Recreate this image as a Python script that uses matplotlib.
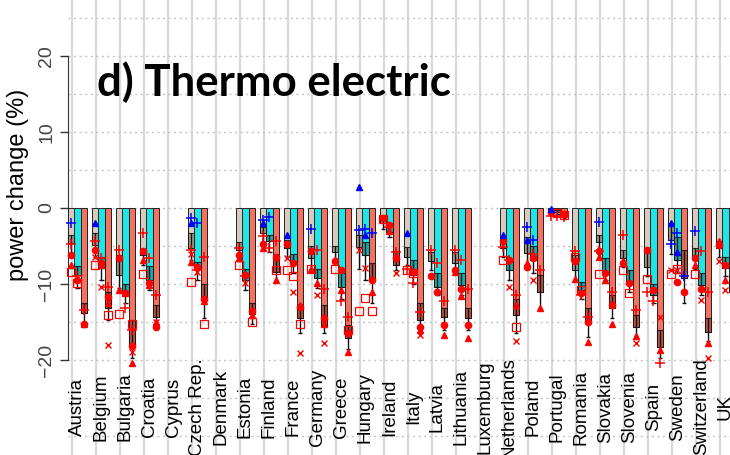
import numpy as np
import matplotlib
matplotlib.use("Agg")
import matplotlib.pyplot as plt

N = np.nan

countries = ["Austria", "Belgium", "Bulgaria", "Croatia", "Cyprus", "Czech Rep.",
             "Denmark", "Estonia", "Finland", "France", "Germany", "Greece",
             "Hungary", "Ireland", "Italy", "Latvia", "Lithuania", "Luxemburg",
             "Netherlands", "Poland", "Portugal", "Romania", "Slovakia",
             "Slovenia", "Spain", "Sweden", "Switzerland", "UK"]

# bar values (tan, cyan, salmon)
bar_vals = [(-4.6, -8.8, -13.8), (-4.9, -7.9, -13.2), (-8.8, -11.2, -18.0), (-6.2, -9.5, -14.3),
            (N, N, N), (-5.3, -7.9, -12.1), (N, N, N), (-5.5, -9.5, -14.0),
            (-3.3, -4.4, -8.4), (-5.3, -7.1, -14.5), (-6.6, -9.2, -15.6), (-5.8, -10.4, -17.1),
            (-5.1, -6.2, -9.5), (-2.0, -3.1, -7.5), (-6.4, -8.8, -14.7), (-7.0, -10.4, -14.3),
            (-7.2, -10.1, -14.5), (N, N, N), (-5.3, -8.2, -14.1), (-5.9, -6.8, -11.0),
            (-0.3, -0.5, -1.0), (-8.2, -10.8, -15.0), (-4.5, -8.4, -13.2), (-6.6, -9.7, -15.6),
            (-7.7, -11.5, -18.3), (-4.2, -6.8, -9.2), (-6.6, -10.1, -16.3), (-5.3, -7.9, -11.0)]
# upper edge of the darker range box
box_top = [(-3.5, -7.6, -12.5), (-3.3, -6.4, -11.0), (-6.2, -10.0, -14.7), (-5.5, -7.6, -12.8),
           (N, N, N), (-3.3, -7.1, -10.0), (N, N, N), (-4.5, -8.0, -12.5),
           (-2.5, -3.5, -6.4), (-4.2, -6.0, -12.8), (-5.0, -8.0, -12.8), (-5.0, -8.5, -15.4),
           (-3.5, -4.5, -7.3), (-1.0, -2.0, -5.6), (-5.1, -6.8, -12.5), (-5.8, -8.6, -13.2),
           (-5.8, -8.6, -13.2), (N, N, N), (-4.5, -7.0, -12.0), (-3.8, -5.0, -8.8),
           (-0.1, -0.2, -0.5), (-6.2, -9.7, -13.2), (-3.5, -6.6, -11.4), (-5.5, -8.2, -14.1),
           (-5.5, -10.0, -16.1), (-2.0, -3.8, -5.5), (-5.3, -8.6, -14.5), (-4.3, -6.5, -9.5)]
# lower end of the error whisker
whisk_lo = [(-6.5, -10.5, -15.3), (-6.5, -9.5, -14.8), (-10.5, -12.5, -19.8), (-7.5, -10.8, -15.8),
            (N, N, N), (-6.8, -9.5, -14.5), (N, N, N), (-7.0, -10.8, -15.2),
            (-4.5, -5.8, -9.8), (-6.5, -8.5, -16.5), (-8.0, -10.5, -16.5), (-7.0, -12.0, -18.5),
            (-8.0, -9.5, -12.5), (-2.8, -3.8, -8.2), (-7.5, -10.0, -16.5), (-8.2, -11.5, -16.0),
            (-8.4, -11.4, -16.0), (N, N, N), (-6.5, -9.5, -16.4), (-7.5, -8.5, -13.2),
            (-0.5, -0.8, -1.3), (-9.5, -12.0, -17.0), (-6.0, -9.5, -14.5), (-7.8, -11.0, -16.8),
            (-9.0, -12.5, -19.8), (-6.0, -8.5, -12.5), (-8.0, -11.5, -17.5), (-6.5, -9.0, -12.5)]

# individual model markers (tan, cyan, salmon)
red_tri = [(-7.5, -9.3, -15.2), (N, -7.5, -12.5), (-10.8, -11.2, -20.4), (-6.8, -10.1, -15.0),
           (N, N, N), (-7.1, N, -12.3), (N, N, N), (-6.6, N, -14.1),
           (-5.3, N, -9.5), (N, N, -12.8), (-8.0, -9.9, -15.2), (-6.8, -10.8, -18.9),
           (N, N, -11.0), (N, -3.0, N), (N, N, -16.1), (N, N, -16.7),
           (-8.4, -11.6, -17.1), (N, N, N), (N, N, -12.8), (-7.3, N, -13.2),
           (N, N, N), (-9.3, N, -17.6), (-6.4, -9.5, -15.2), (-7.0, N, -16.9),
           (N, N, -18.7), (N, N, N), (-7.5, N, -17.8), (-4.3, -9.5, N)]
red_dot = [(-6.2, -9.5, -15.2), (-5.5, -7.3, -11.7), (-6.6, -11.2, -18.2), (-5.7, -9.9, -15.6),
           (N, N, N), (N, -7.7, -12.0), (N, N, N), (-6.2, -8.8, -13.6),
           (-4.7, N, -6.4), (-4.7, -7.3, -13.0), (-5.7, N, -14.5), (-7.0, -8.2, -16.5),
           (N, N, -9.5), (-1.3, -2.2, -6.6), (N, -8.4, -15.6), (-9.0, -11.0, -15.4),
           (-8.2, -10.6, -15.4), (N, N, N), (-4.3, -6.8, N), (-7.7, -6.6, N),
           (-0.5, N, -0.8), (-7.0, -11.2, -15.0), (-5.7, -8.6, -12.8), (-7.3, -9.9, N),
           (-5.5, -10.8, N), (N, -9.7, -11.0), (-6.6, -10.6, N), (-4.9, -7.5, N)]
red_sq = [(-8.4, -9.9, N), (-7.5, N, -14.1), (-13.9, N, -15.2), (-8.7, N, N),
          (N, N, N), (-9.7, N, -15.2), (N, N, N), (-7.5, N, -15.0),
          (N, N, -8.2), (-8.2, -9.0, -15.2), (-8.0, N, N), (-8.0, N, -16.1),
          (-13.6, -11.9, -13.6), (-1.5, N, N), (-8.2, -8.6, N), (N, N, N),
          (N, N, N), (N, N, N), (-6.9, N, -15.6), (N, N, N),
          (N, -0.6, -0.9), (-6.4, -10.8, N), (-8.7, N, N), (-8.2, -11.2, N),
          (-9.3, N, N), (-8.7, -8.0, N), (-8.7, N, N), (N, N, N)]
red_plus = [(-4.7, -9.0, -13.4), (-4.4, -6.6, -10.4), (-5.5, -13.2, -16.1), (-3.3, -6.6, -11.4),
            (N, N, N), (-5.5, -8.2, -6.4), (N, N, N), (-5.3, -9.0, N),
            (-3.7, -5.3, -4.4), (N, N, N), (N, -5.5, -10.6), (N, -12.3, -14.3),
            (N, N, N), (N, -2.5, -5.8), (-8.0, -9.9, -13.7), (-5.5, -7.3, -12.3),
            (-5.5, -6.8, -10.6), (N, N, N), (-5.1, -6.9, -11.4), (N, -6.0, -8.2),
            (-1.0, -1.0, -1.2), (-5.7, -11.4, -14.3), (-5.7, N, -11.0), (-3.5, N, -13.4),
            (-11.0, -12.3, -20.4), (N, N, N), (N, -5.7, -11.0), (N, N, N)]
red_x = [(N, N, N), (-6.4, -10.4, -18.0), (N, N, -19.0), (N, -10.1, -15.0),
         (N, N, N), (-6.0, -8.4, N), (N, N, N), (N, -9.9, N),
         (N, N, -6.6), (-6.6, -11.0, -19.1), (N, -11.5, -17.7), (N, N, N),
         (-5.5, -7.9, N), (N, N, -8.6), (N, N, -16.7), (N, N, N),
         (N, N, N), (N, N, N), (N, -10.4, -17.5), (N, -9.5, N),
         (N, N, N), (N, N, N), (N, N, N), (N, N, -17.8),
         (N, N, -14.3), (-8.2, -8.2, N), (N, -12.1, -19.8), (-7.0, -10.8, N)]
blue_tri = [(N, N, N), (-2.0, N, N), (N, N, N), (N, N, N),
            (N, N, N), (-2.0, N, N), (N, N, N), (N, N, N),
            (-2.0, N, N), (-3.5, N, N), (N, N, N), (N, N, N),
            (2.7, -3.5, N), (N, N, N), (-3.3, N, N), (N, N, N),
            (N, N, N), (N, N, N), (-3.5, N, N), (-4.2, N, N),
            (-0.1, N, N), (N, N, N), (N, N, N), (N, N, N),
            (N, N, N), (-2.0, -5.8, N), (N, N, N), (N, N, N)]
blue_plus = [(-2.0, N, N), (N, N, N), (N, N, N), (N, N, N),
             (N, N, N), (-1.3, -2.0, N), (N, N, N), (N, N, N),
             (-1.6, -1.2, N), (N, N, N), (-2.7, N, N), (N, N, N),
             (-2.9, -2.7, -3.3), (N, N, N), (N, N, N), (N, N, N),
             (N, N, N), (N, N, N), (N, N, N), (-2.5, -4.2, N),
             (N, N, N), (N, N, N), (-1.8, N, N), (N, N, N),
             (N, N, N), (-4.7, -3.3, -9.0), (-3.0, N, N), (N, N, N)]

y_ticks = [-20, -10, 0, 10, 20]
title = "d) Thermo electric"
ylabel = "power change (%)"

colors = ["#d6ccbe", "#1fe6e6", "#f37260"]
dark_colors = ["#9c9385", "#17a3a3", "#b4503f"]

fig = plt.figure(figsize=(7.3, 4.55), dpi=100)
ax = fig.add_axes([0, 0, 1, 1])
ax.set_xlim(-3.229, 27.19)
ax.set_ylim(-32.5, 27.37)

x = np.arange(len(countries))
w = 0.27
offs = [-0.27, 0.0, 0.27]

# grid
for g in x:
    ax.axvline(g - 0.229, color="#d9d9d9", lw=1.6, zorder=1)
for gy in range(-30, 30, 5):
    ax.plot([-0.396, 28], [gy, gy], color="#c4c4c4", lw=1.0, ls=(0, (1.5, 2.5)), zorder=1)

bv = np.array(bar_vals, dtype=float)
bt = np.array(box_top, dtype=float)
wl = np.array(whisk_lo, dtype=float)
for k in range(3):
    xs = x + offs[k]
    ax.bar(xs, bv[:, k], width=w, color=colors[k], edgecolor="#222222", linewidth=0.7, zorder=3)
    ax.bar(xs, bv[:, k] - bt[:, k], bottom=bt[:, k], width=w, color=dark_colors[k],
           edgecolor="#111111", linewidth=0.8, zorder=4, alpha=0.85)
    ax.vlines(xs, wl[:, k], bt[:, k], color="#111111", lw=1.0, zorder=5)
    ax.hlines(wl[:, k], xs - 0.09, xs + 0.09, color="#111111", lw=1.0, zorder=5)

def scatter(data, marker, color, ms, mfc=None, mew=1.0):
    arr = np.array(data, dtype=float)
    for k in range(3):
        ax.plot(x + offs[k], arr[:, k], linestyle="none", marker=marker, color=color,
                ms=ms, mfc=mfc if mfc is not None else color, mew=mew, zorder=6)

scatter(red_sq, "s", "red", 5.5, mfc="none", mew=0.9)
scatter(red_plus, "+", "red", 7, mew=1.1)
scatter(red_x, "x", "red", 4.5, mew=1.0)
scatter(red_dot, "o", "red", 4.5)
scatter(red_tri, "^", "red", 5)
scatter(blue_plus, "+", "blue", 7, mew=1.1)
scatter(blue_tri, "^", "blue", 5)

# country labels (centred, rotated)
for i, c in enumerate(countries):
    ax.text(i, -26.2, c, rotation=90, ha="center", va="center", fontsize=13.5,
            family="Liberation Sans", zorder=7)

# y axis
for s in ["top", "right", "bottom"]:
    ax.spines[s].set_visible(False)
ax.spines["left"].set_position(("data", -0.396))
ax.spines["left"].set_bounds(-20, 20)
ax.spines["left"].set_color("#333333")
ax.set_yticks(y_ticks)
ax.set_yticklabels([str(t).replace("-", "\u2212") for t in y_ticks], rotation=90,
                   va="center", family="Liberation Sans", fontsize=14)
ax.tick_params(axis="y", length=6, width=1, pad=3, colors="#333333", labelcolor="#444444")
ax.set_xticks([])

ax.text(-2.48, 3.0, ylabel, rotation=90, ha="center", va="center", fontsize=17,
        family="Liberation Sans")

ax.text(0.81, 16.6, title, ha="left", va="center", fontsize=31.5, fontweight="bold",
        family="Lato")

fig.savefig("out.png", dpi=100)
